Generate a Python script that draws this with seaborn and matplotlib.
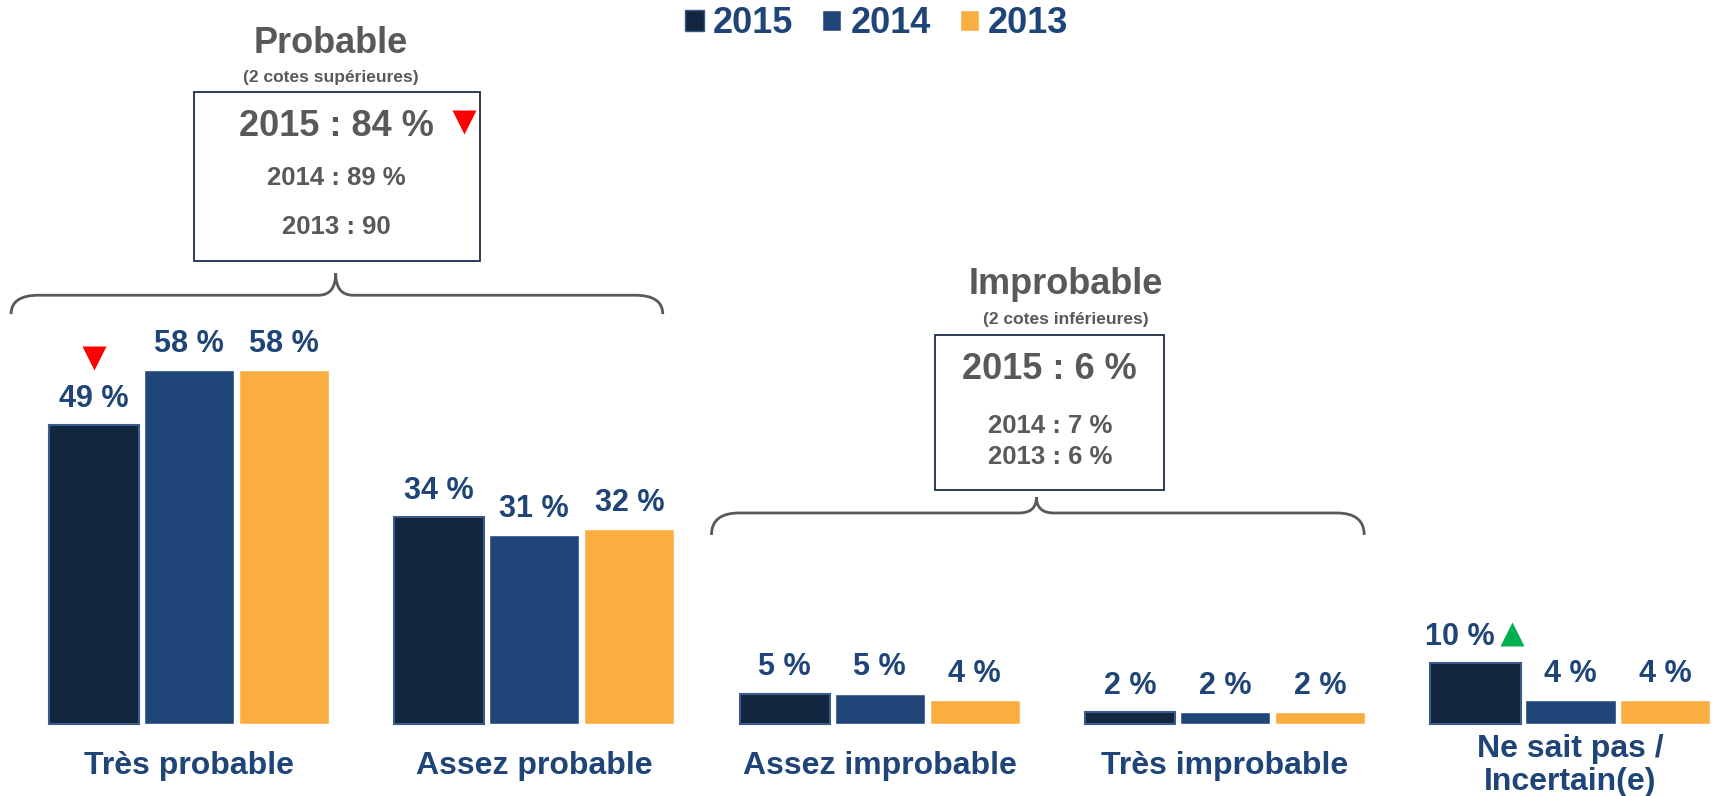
import numpy as np
import pandas as pd
import matplotlib
matplotlib.use('Agg')
import matplotlib.pyplot as plt
from matplotlib.path import Path
from matplotlib.patches import PathPatch, Rectangle
import seaborn as sns

sns.set_style("white")
plt.rcParams['font.family'] = ['Liberation Sans', 'DejaVu Sans']

''' DATA
'''
categories = ['Très probable', 'Assez probable', 'Assez improbable', 'Très improbable', 'Ne sait pas /\nIncertain(e)']
years = ['2015', '2014', '2013']
v2015 = [49, 34, 5, 2, 10]
v2014 = [58, 31, 5, 2, 4]
v2013 = [58, 32, 4, 2, 4]

probable_lines = ['2015 : 84 %', '2014 : 89 %', '2013 : 90']
improbable_lines = ['2015 : 6 %', '2014 : 7 %', '2013 : 6 %']

colors = ['#13263f', '#21477a', '#fbae40']
blue_txt = '#1f4477'
gray_txt = '#595959'

df = pd.DataFrame({
    'Catégorie': categories * 3,
    'Année': [y for y in years for _ in categories],
    'Valeur': v2015 + v2014 + v2013,
})

''' PLOT
'''
fig = plt.figure(figsize=(17.12, 7.96), dpi=100)
ax = fig.add_axes([0, 0, 1, 1])
sns.barplot(data=df, x='Catégorie', y='Valeur', hue='Année', hue_order=years,
            palette=colors, width=0.825, gap=0.05, saturation=1, ax=ax)
ax.set_xlim(-0.547, 4.41)
ax.set_ylim(-11.8, 118.7)
ax.axis('off')

# edge on 2015 bars
for p in ax.containers[0]:
    p.set_edgecolor('#3b5b8c')
    p.set_linewidth(1.5)

# value labels
for i, cont in enumerate(ax.containers):
    for j, p in enumerate(cont):
        xc = p.get_x() + p.get_width() / 2
        h = p.get_height()
        dx = -11 if (i == 0 and j == 4) else 0
        ax.annotate(f'{int(h)} %', (xc, h), xytext=(dx, 13), textcoords='offset points',
                    ha='center', va='baseline', fontsize=22, fontweight='bold', color=blue_txt)

# change markers
p49 = ax.containers[0][0]
ax.plot(p49.get_x() + p49.get_width() / 2, p49.get_height() + 11, marker='v', ms=17,
        color='#ff0000', mec='none')
p10 = ax.containers[0][4]
ax.plot(p10.get_x() + p10.get_width() / 2 + 0.105, p10.get_height() + 4.8, marker='^', ms=17,
        color='#00b050', mec='none')

# category labels
for k, c in enumerate(categories):
    ax.text(k, -6.8, c, ha='center', va='center', fontsize=23, fontweight='bold',
            color=blue_txt, linespacing=1.15)


def brace(x0, x1, xm, y_end, y_h, y_peak):
    r = 0.08
    r2 = 0.05
    verts = [(x0, y_end), (x0, y_h), (x0 + r, y_h),
             (xm - r2, y_h), (xm, y_h), (xm, y_peak),
             (xm, y_h), (xm + r2, y_h),
             (x1 - r, y_h), (x1, y_h), (x1, y_end)]
    codes = [Path.MOVETO, Path.CURVE3, Path.CURVE3,
             Path.LINETO, Path.CURVE3, Path.CURVE3,
             Path.CURVE3, Path.CURVE3,
             Path.LINETO, Path.CURVE3, Path.CURVE3]
    ax.add_patch(PathPatch(Path(verts, codes), fill=False, ec=gray_txt, lw=2))


def summary(title, sub, lines, xc, y_title, box, ys):
    ax.text(xc, y_title, title, ha='center', va='center', fontsize=26, fontweight='bold', color=gray_txt)
    ax.text(xc, y_title - 5.6, sub, ha='center', va='center', fontsize=12.5, fontweight='bold', color=gray_txt)
    bx0, bx1, by0, by1 = box
    ax.add_patch(Rectangle((bx0, by0), bx1 - bx0, by1 - by0, fill=False, ec='#1f2d4a', lw=1.3))
    bc = (bx0 + bx1) / 2
    sizes = [26, 18.5, 18.5]
    for t, y, s in zip(lines, ys, sizes):
        ax.text(bc, y, t, ha='center', va='center', fontsize=s, fontweight='bold', color=gray_txt)


summary('Probable', '(2 cotes supérieures)', probable_lines, 0.41, 111.6,
        (0.014, 0.842, 75.9, 103.6), [97.9, 89.5, 81.5])
ax.plot(0.796, 98.7, marker='v', ms=17, color='#ff0000', mec='none')
brace(-0.515, 1.372, 0.425, 67.2, 70.3, 73.9)

summary('Improbable', '(2 cotes inférieures)', improbable_lines, 2.54, 72.0,
        (2.161, 2.824, 38.4, 63.8), [58.2, 48.9, 43.8])
brace(1.513, 3.403, 2.454, 31.0, 34.6, 37.2)

# legend
handles, labels = ax.get_legend_handles_labels()
handles[0].set_edgecolor('#3b5b8c')
ax.legend(handles, labels, loc='center', bbox_to_anchor=(0.512, 0.97), bbox_transform=fig.transFigure,
          ncol=3, frameon=False, prop={'weight': 'bold', 'size': 26}, labelcolor=blue_txt,
          handlelength=0.53, handleheight=0.53, handletextpad=0.25, columnspacing=0.8, borderpad=0)

plt.savefig('out.png', dpi=100)
